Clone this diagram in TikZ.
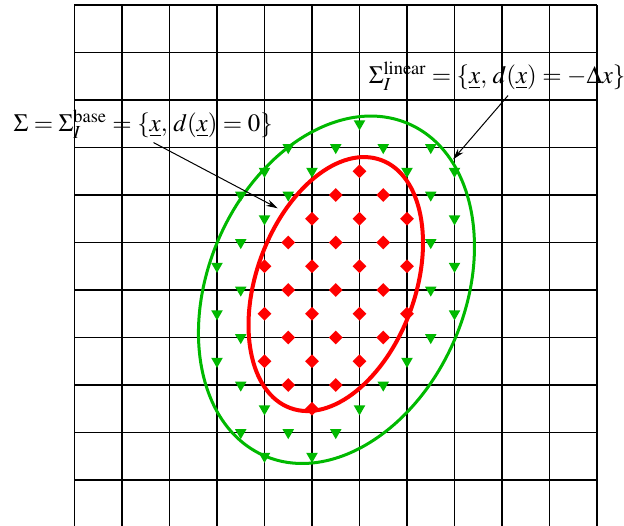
\documentclass[tikz,border=0pt]{standalone}
\usepackage{mathptmx}
\usepackage{tikz}
\usetikzlibrary{arrows.meta, shapes.geometric}

\definecolor{basered}{RGB}{255,0,0}
\definecolor{lingreen}{RGB}{0,185,0}

\begin{document}
\begin{tikzpicture}[
    >={Stealth[length=7pt, width=4pt]},
    gridline/.style={line width=1.1pt},
    basept/.style={diamond, fill=basered, inner sep=0pt,
        minimum size=0.3cm},
    linpt/.style={regular polygon, regular polygon sides=3,
        shape border rotate=180, fill=lingreen, inner sep=0pt,
        minimum size=0.28cm},
    lbl/.style={anchor=base west, inner sep=0pt,
        font=\fontsize{14.9}{17}\selectfont}
  ]
  \useasboundingbox (-1.568,0.032) rectangle (11.568,11.105);
  \draw[gridline] (0,0) grid (11,11);

  \draw[lingreen, line width=1.8pt, rotate around={66.5:(5.515,5.005)}]
    (5.515,5.005) ellipse [x radius=3.81, y radius=2.70];
  \draw[basered, line width=2.4pt, rotate around={69.9:(5.50,5.125)}]
    (5.50,5.125) ellipse [x radius=2.78, y radius=1.67];

  \foreach \x/\y [count=\i] in {6/7.5, 5.5/7, 6.5/7, 5/6.5, 6/6.5, 7/6.5,
      4.5/6, 5.5/6, 6.5/6, 4/5.5, 5/5.5, 6/5.5, 7/5.5, 4.5/5, 5.5/5, 6.5/5,
      4/4.5, 5/4.5, 6/4.5, 7/4.5, 4.5/4, 5.5/4, 6.5/4, 4/3.5, 5/3.5, 6/3.5,
      4.5/3, 5.5/3, 5/2.5}
    \node[basept] (b\i) at (\x,\y) {};

  \foreach \x/\y [count=\i] in {6/8.5, 4.5/8, 5.5/8, 6.5/8, 7.5/8, 4/7.5,
      5/7.5, 7/7.5, 8/7.5, 3.5/7, 4.5/7, 7.5/7, 4/6.5, 8/6.5, 3.5/6, 7.5/6,
      3/5.5, 8/5.5, 3.5/5, 7.5/5, 3/4.5, 8/4.5, 3.5/4, 7.5/4, 3/3.5, 7/3.5,
      3.5/3, 6.5/3, 4/2.5, 6/2.5, 3.5/2, 4.5/2, 5.5/2, 4/1.5, 5/1.5}
    \node[linpt] (l\i) at (\x,\y) {};

  \node[lbl] (lbase) at (-1.29,8.33)
    {$\Sigma = \Sigma_I^{\mathrm{base}} = \{\underline{x},\, d(\underline{x}) = 0\}$};
  \node[lbl] (llin) at (6.19,9.35)
    {$\Sigma_I^{\mathrm{linear}} = \{\underline{x},\, d(\underline{x}) = -\Delta x\}$};

  \coordinate (tipbase) at (4.28,6.72);
  \coordinate (tiplin) at (7.97,7.75);
  \draw[->, line width=0.6pt] ([xshift=0.22cm, yshift=-0.07cm]lbase.south)
    -- (tipbase);
  \draw[->, line width=0.6pt] ([xshift=0.23cm, yshift=-0.1cm]llin.south)
    -- (tiplin);
\end{tikzpicture}
\end{document}
